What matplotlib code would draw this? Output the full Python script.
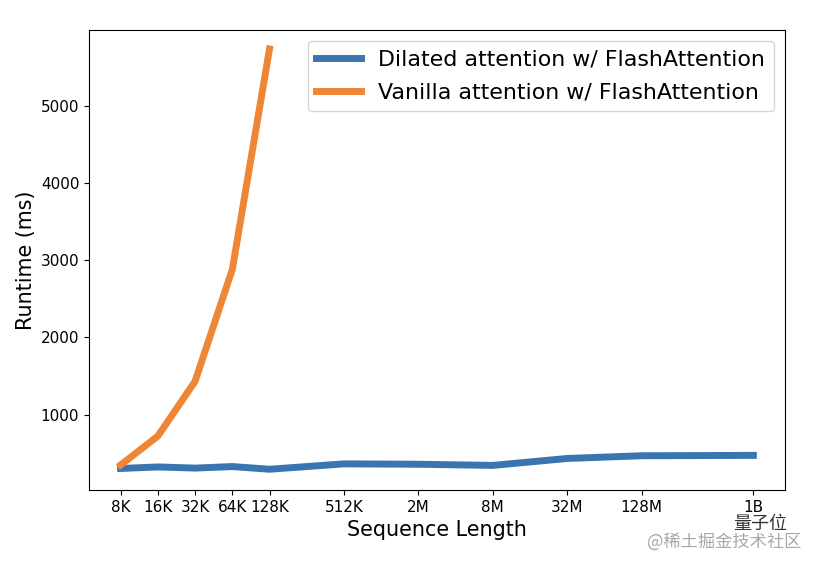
import numpy as np
import matplotlib
matplotlib.use('Agg')
import matplotlib.pyplot as plt

dilated_exp = [13, 14, 15, 16, 17, 19, 21, 23, 25, 27, 30]
dilated_ms = [300, 320, 305, 325, 290, 360, 355, 340, 430, 465, 470]
vanilla_exp = [13, 14, 15, 16, 17]
vanilla_ms = [345, 720, 1430, 2880, 5740]
tick_labels = ['8K', '16K', '32K', '64K', '128K', '512K', '2M', '8M', '32M', '128M', '1B']
yticks = [1000, 2000, 3000, 4000, 5000]

BLUE = '#3b75af'
ORANGE = '#ef8636'
CJK = ['Noto Sans CJK SC', 'DejaVu Sans']

fig = plt.figure(figsize=(8.18, 5.68), dpi=100)
ax = fig.add_axes([89 / 818, 78 / 568, 696 / 818, 460 / 568])

ax.plot(2.0 ** np.array(dilated_exp), dilated_ms, color=BLUE, lw=5, label='Dilated attention w/ FlashAttention')
ax.plot(2.0 ** np.array(vanilla_exp), vanilla_ms, color=ORANGE, lw=5, label='Vanilla attention w/ FlashAttention')

ax.set_xscale('log', base=2)
ax.set_xticks(2.0 ** np.array(dilated_exp))
ax.set_xticklabels(tick_labels)
ax.minorticks_off()
ax.set_yticks(yticks)
ax.set_ylim(21, 5986)
ax.tick_params(labelsize=11)
ax.set_xlabel('Sequence Length', fontsize=14.9, labelpad=4)
ax.set_ylabel('Runtime (ms)', fontsize=14.9, labelpad=3)
ax.legend(loc='upper right', bbox_to_anchor=(774 / 818, 1 - 41 / 568), bbox_transform=fig.transFigure,
          fontsize=15.9, borderaxespad=0, labelspacing=0.58, handlelength=2.0)

# watermark along the lower right corner
fig.text(733 / 818, 1 - 524 / 568, '量子位', family=CJK, fontsize=13, color='#333333', va='center')
fig.text(647 / 818, 1 - 542 / 568, '@稀土掘金技术社区', family=CJK, fontsize=12.4, color='#a8a8a8', va='center')

fig.savefig('out.png', dpi=100)
